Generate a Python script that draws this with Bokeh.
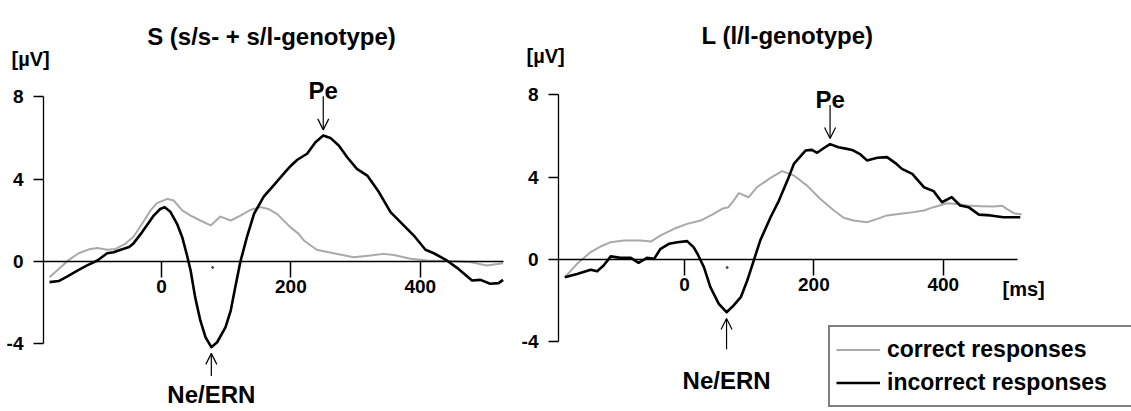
from bokeh.plotting import figure
from bokeh.models import Range1d, Label, Arrow, OpenHead, Legend, LegendItem, FixedTicker
from bokeh.layouts import row
from bokeh.embed import file_html
from bokeh.resources import INLINE

FONT = "Liberation Sans"

# ---------------- data (time in ms, amplitude in µV) ----------------
titles = ["S (s/s- + s/l-genotype)", "L (l/l-genotype)"]
x_ticks = [0, 200, 400]
y_ticks = [-4, 0, 4, 8]
y_tick_labels = {-4: "-4", 0: "0", 4: "4", 8: "8"}
legend_labels = ["correct responses", "incorrect responses"]

s_incorrect_t = [-173, -159, -146, -130, -115, -99, -84, -74, -63, -50, -43, -32, -22, -12, -2, 5, 14, 24, 32,
                 39, 45, 52, 60, 68, 77, 86, 99, 107, 114, 122, 132, 143, 158, 174, 190, 200, 210, 225, 238,
                 250, 261, 274, 287, 302, 318, 336, 354, 372, 390, 408, 421, 441, 459, 480, 493, 508, 521, 528]
s_incorrect_v = [-1.0, -0.95, -0.73, -0.44, -0.19, 0.05, 0.4, 0.45, 0.57, 0.7, 0.89, 1.34, 1.78, 2.23, 2.55,
                 2.64, 2.4, 1.83, 1.18, 0.35, -0.44, -1.73, -2.86, -3.67, -4.16, -3.92, -3.19, -2.38, -1.25,
                 0.0, 1.18, 2.31, 3.15, 3.72, 4.3, 4.65, 4.94, 5.23, 5.79, 6.12, 6.0, 5.63, 5.06, 4.5, 4.17,
                 3.37, 2.4, 1.83, 1.26, 0.57, 0.4, 0.05, -0.36, -0.92, -0.89, -1.08, -1.05, -0.89]

s_correct_t = [-173, -159, -143, -128, -110, -99, -84, -71, -56, -43, -30, -17, -7, 9, 19, 32, 45, 60, 76, 91,
               107, 122, 137, 153, 165, 179, 199, 212, 220, 240, 266, 297, 323, 343, 359, 385, 410, 446, 477,
               503, 528]
s_correct_v = [-0.76, -0.36, 0.08, 0.4, 0.61, 0.66, 0.57, 0.61, 0.86, 1.21, 1.83, 2.48, 2.83, 3.04, 2.96, 2.48,
               2.23, 1.99, 1.75, 2.18, 1.99, 2.23, 2.5, 2.64, 2.55, 2.3, 1.67, 1.34, 1.02, 0.57, 0.4, 0.21,
               0.29, 0.37, 0.32, 0.13, 0.05, 0.02, -0.03, -0.19, -0.08]

l_incorrect_t = [-185, -166, -145, -135, -125, -114, -99, -83, -71, -58, -47, -37, -24, -11, 4, 14, 20, 25, 30,
                 40, 53, 65, 76, 87, 97, 107, 117, 133, 146, 159, 169, 187, 197, 205, 215, 225, 238, 251, 259,
                 272, 282, 298, 313, 326, 336, 352, 370, 385, 398, 413, 426, 439, 455, 473, 493, 519]
l_incorrect_v = [-0.86, -0.7, -0.5, -0.57, -0.29, 0.15, 0.08, 0.08, -0.16, 0.08, 0.03, 0.52, 0.76, 0.84, 0.89,
                 0.6, 0.28, -0.05, -0.37, -1.34, -2.15, -2.56, -2.23, -1.83, -1.02, -0.05, 0.92, 2.05, 2.86,
                 3.83, 4.64, 5.29, 5.32, 5.18, 5.4, 5.6, 5.45, 5.37, 5.32, 5.1, 4.81, 4.94, 4.97, 4.68, 4.4,
                 4.16, 3.51, 3.32, 2.78, 3.03, 2.62, 2.54, 2.18, 2.14, 2.05, 2.05]

l_correct_t = [-185, -166, -145, -130, -114, -94, -68, -52, -37, -16, 4, 25, 45, 58, 68, 76, 84, 99, 112, 133,
               151, 169, 189, 210, 230, 246, 261, 282, 298, 313, 334, 354, 370, 385, 406, 421, 437, 457, 478,
               491, 498, 509, 521]
l_correct_v = [-0.86, -0.21, 0.36, 0.63, 0.84, 0.92, 0.92, 0.87, 1.17, 1.49, 1.73, 1.89, 2.22, 2.46, 2.54, 2.86,
               3.22, 3.02, 3.51, 3.96, 4.29, 4.08, 3.6, 2.94, 2.4, 2.03, 1.89, 1.81, 1.97, 2.14, 2.22, 2.3,
               2.38, 2.54, 2.73, 2.7, 2.62, 2.59, 2.57, 2.61, 2.46, 2.25, 2.18]

# small specks visible just under the zero line in the source figure
speck_t = [[79], [66]]
speck_v = [[-0.29], [-0.39]]

# ---------------- layout constants ----------------
H = 411
PX_MS = 0.647
PX_UV = 20.6
GRAY = "#a9a9a9"


def px_to_data(px_x, px_y, zx, zy):
    return (px_x - zx) / PX_MS, (zy - px_y) / PX_UV


def panel(idx, left_px, width, zx, zy, axis_px, zero_end_px, t_inc, v_inc, t_cor, v_cor,
          title_px, unit_px, ne_text_px, ne_arrow_len):
    x0, y1 = px_to_data(left_px, 0, zx, zy)
    x1, y0 = px_to_data(left_px + width, H, zx, zy)
    p = figure(width=width, height=H, x_range=Range1d(x0, x1), y_range=Range1d(y0, y1),
               output_backend="svg", toolbar_location=None,
               min_border_left=0, min_border_right=0, min_border_top=0, min_border_bottom=0)
    p.outline_line_color = None
    p.grid.visible = False
    p.background_fill_color = "white"

    axis_t, _ = px_to_data(axis_px, 0, zx, zy)
    end_t, _ = px_to_data(zero_end_px, 0, zx, zy)

    # x axis drawn on the zero line
    xa = p.xaxis[0]
    xa.fixed_location = 0
    xa.bounds = (axis_t, end_t)
    xa.ticker = FixedTicker(ticks=x_ticks)
    xa.major_tick_out = 16
    xa.major_tick_in = 0
    xa.minor_tick_out = 0
    xa.minor_tick_in = 0
    xa.axis_line_width = 1.5
    xa.major_tick_line_width = 1.5
    xa.major_label_standoff = 2
    xa.major_label_text_font = FONT
    xa.major_label_text_font_style = "bold"
    xa.major_label_text_font_size = "19px"
    xa.major_label_text_color = "black"

    ya = p.yaxis[0]
    ya.fixed_location = axis_t
    ya.bounds = (-4, 8)
    ya.ticker = FixedTicker(ticks=y_ticks)
    ya.major_label_overrides = y_tick_labels
    ya.major_tick_out = 10
    ya.major_tick_in = 0
    ya.minor_tick_out = 0
    ya.minor_tick_in = 0
    ya.axis_line_width = 1.3
    ya.major_tick_line_width = 1.3
    ya.major_label_standoff = 10
    ya.major_label_text_font = FONT
    ya.major_label_text_font_style = "bold"
    ya.major_label_text_font_size = "19px"
    ya.major_label_text_color = "black"

    r_cor = p.line(t_cor, v_cor, line_color=GRAY, line_width=2, line_join="round")
    r_inc = p.line(t_inc, v_inc, line_color="black", line_width=2.6, line_join="round")
    p.scatter(speck_t[idx], speck_v[idx], size=2, color="#444444")

    # title & unit
    tx, ty = px_to_data(title_px[0], title_px[1], zx, zy)
    p.add_layout(Label(x=tx, y=ty, text=titles[idx], text_align="center", text_baseline="alphabetic",
                       text_font=FONT, text_font_style="bold", text_font_size="24px", text_color="black"))
    ux, uy = px_to_data(unit_px[0], unit_px[1], zx, zy)
    p.add_layout(Label(x=ux, y=uy, text="[µV]", text_align="left", text_baseline="middle",
                       text_font=FONT, text_font_style="bold", text_font_size="20px", text_color="black"))

    # Pe arrow at the positive peak of the error response
    ipk = max(range(len(v_inc)), key=lambda i: v_inc[i])
    pk_t, pk_v = t_inc[ipk], v_inc[ipk]
    p.add_layout(Arrow(x_start=pk_t, y_start=pk_v + 1.9, x_end=pk_t, y_end=pk_v + 0.27,
                       line_width=1.2, end=OpenHead(size=11, line_width=1.2)))
    p.add_layout(Label(x=pk_t, y=pk_v + 1.9, y_offset=6, text="Pe", text_align="center",
                       text_baseline="alphabetic", text_font=FONT, text_font_style="bold",
                       text_font_size="24px", text_color="black"))

    # Ne/ERN arrow at the negative trough
    itr = min(range(len(v_inc)), key=lambda i: v_inc[i])
    tr_t, tr_v = t_inc[itr], v_inc[itr]
    p.add_layout(Arrow(x_start=tr_t, y_start=tr_v - ne_arrow_len, x_end=tr_t, y_end=tr_v - 0.3,
                       line_width=1.2, end=OpenHead(size=11, line_width=1.2)))
    _, ny = px_to_data(0, ne_text_px, zx, zy)
    p.add_layout(Label(x=tr_t, y=ny, text="Ne/ERN", text_align="center", text_baseline="alphabetic",
                       text_font=FONT, text_font_style="bold", text_font_size="24px", text_color="black"))
    return p, r_cor, r_inc


SPLIT = 514
p1, _, _ = panel(0, 0, SPLIT, 161, 261, 43, 503, s_incorrect_t, s_incorrect_v, s_correct_t, s_correct_v,
                 (271, 36), (11, 58), 394, 1.4)
p2, rc, ri = panel(1, SPLIT, 1131 - SPLIT, 684, 259, 558, 1017, l_incorrect_t, l_incorrect_v,
                   l_correct_t, l_correct_v, (787, 35), (526, 55), 380, 1.8)

msx, msy = px_to_data(1002, 288, 684, 259)
p2.add_layout(Label(x=msx, y=msy, text="[ms]", text_align="left", text_baseline="middle",
                    text_font=FONT, text_font_style="bold", text_font_size="20px", text_color="black"))

legend = Legend(items=[LegendItem(label=legend_labels[0], renderers=[rc]),
                       LegendItem(label=legend_labels[1], renderers=[ri])],
                location=(828 - SPLIT, 4), orientation="vertical",
                border_line_color="black", border_line_width=2, background_fill_color="white",
                background_fill_alpha=1.0,
                label_text_font=FONT, label_text_font_style="bold", label_text_font_size="23px",
                label_text_color="black",
                glyph_width=44, glyph_height=33, label_height=33, label_width=270, label_standoff=7,
                padding=6, spacing=0, margin=0)
p2.add_layout(legend)

layout = row(p1, p2)
open("out.html", "w").write(file_html(layout, INLINE))
